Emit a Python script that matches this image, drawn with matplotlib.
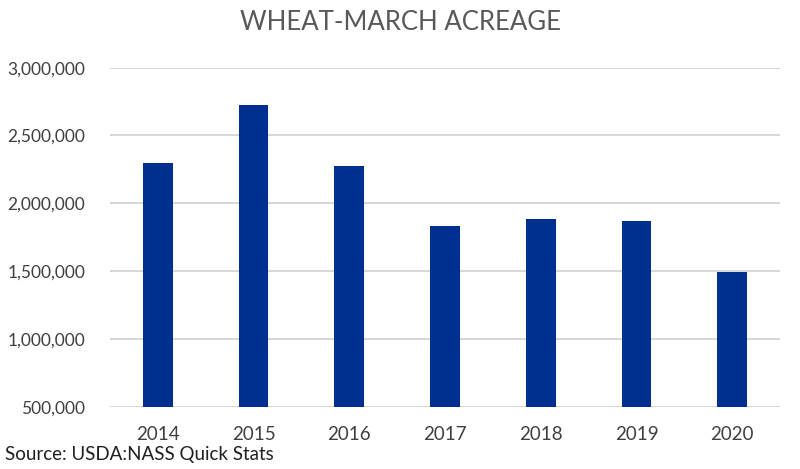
import matplotlib.pyplot as plt
from matplotlib.ticker import FuncFormatter

years = ['2014', '2015', '2016', '2017', '2018', '2019', '2020']
acres = [2295000, 2724000, 2278000, 1835000, 1884000, 1867000, 1495000]
yticks = [500000, 1000000, 1500000, 2000000, 2500000, 3000000]

plt.rcParams['font.family'] = ['Lato', 'DejaVu Sans']

fig = plt.figure(figsize=(8, 4.69), dpi=100)
ax = fig.add_axes([0.1375, 0.1328, 0.8375, 0.723])

ax.bar(years, acres, width=0.31, color='#00308F', zorder=3)
ax.set_ylim(500000, 3000000)
ax.set_xlim(-0.5, len(years) - 0.5)
ax.set_yticks(yticks)
ax.yaxis.set_major_formatter(FuncFormatter(lambda v, p: f'{int(v):,}'))
ax.grid(axis='y', color='#d0d0d0', linewidth=1.2, zorder=0)
for s in ax.spines.values():
    s.set_visible(False)
ax.tick_params(axis='both', length=0, colors='#404040')
ax.tick_params(axis='y', pad=18, labelsize=12.5)
ax.tick_params(axis='x', pad=14, labelsize=13.5)

fig.text(0.5, 0.953, 'WHEAT-MARCH ACREAGE', ha='center', va='center',
         fontsize=18.5, color='#595959')
fig.text(0.006, 0.03, 'Source: USDA:NASS Quick Stats', ha='left', va='center',
         fontsize=13.5, color='#202020')

fig.savefig('out.png', dpi=100, facecolor='white')
